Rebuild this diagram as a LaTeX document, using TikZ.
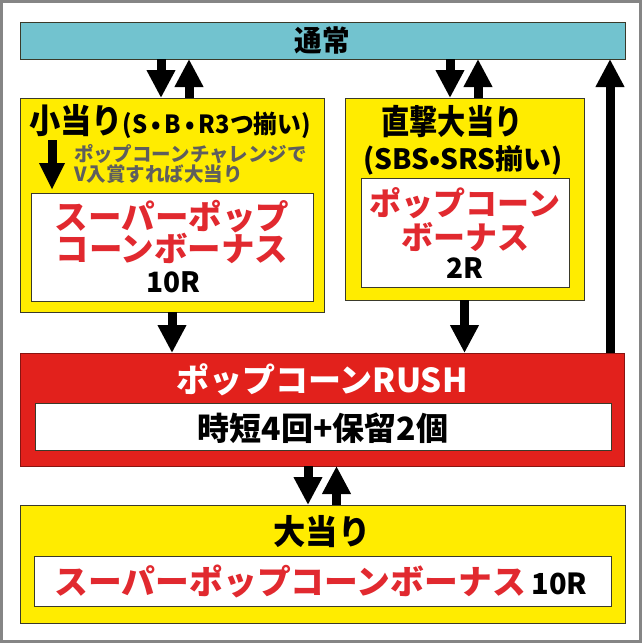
\documentclass[tikz,border=0pt]{standalone}
\usepackage{fontspec}
\IfFontExistsTF{Noto Sans CJK JP Black}
  {\setmainfont{Noto Sans CJK JP}[BoldFont={Noto Sans CJK JP Black}]}
  {\setmainfont{Noto Sans CJK JP}[BoldFont={Noto Sans CJK JP Bold}]}
\usetikzlibrary{arrows.meta}
\definecolor{barblue}{HTML}{72C3CF}
\definecolor{ylw}{HTML}{FFEC00}
\definecolor{rushred}{HTML}{E2211C}
\definecolor{txtred}{HTML}{E1292F}
\definecolor{txtgray}{HTML}{5E5E5E}
\definecolor{edgec}{HTML}{3A3A2A}
\definecolor{frame}{HTML}{858585}
\newcommand\fsz[1]{\fontsize{#1}{#1}\selectfont\bfseries}
\newcommand\nx[2]{\scalebox{#1}[1]{#2}}
\tikzset{
  box/.style={rectangle, inner sep=0pt, outer sep=0pt, anchor=north west, draw=edgec, line width=1pt},
  txt/.style={inner sep=0pt, outer sep=0pt, anchor=center},
  bigarrow/.style={line width=9pt, -{Triangle[width=27pt,length=28pt]}},
}
\begin{document}
\begin{tikzpicture}[x=1pt,y=-1pt]
\useasboundingbox (0,0) rectangle (642,643);
\draw[frame, line width=3pt] (1.5,1.5) rectangle (640.5,641.5);

% boxes
\node[box, fill=barblue, minimum width=605, minimum height=37] (bar) at (20,22) {};
\node[box, fill=ylw, minimum width=304, minimum height=214] (sy) at (20,98) {};
\node[box, fill=white, minimum width=282, minimum height=108] (sw) at (31,193) {};
\node[box, fill=ylw, minimum width=239, minimum height=202] (cy) at (345,98) {};
\node[box, fill=white, minimum width=208, minimum height=109] (cw) at (361,178) {};
\node[box, fill=rushred, draw=rushred!60!black, minimum width=604, minimum height=113] (rush) at (20,353) {};
\node[box, fill=white, minimum width=576, minimum height=47] (rw) at (35,403) {};
\node[box, fill=ylw, minimum width=605, minimum height=118] (by) at (20,505) {};
\node[box, fill=white, minimum width=577, minimum height=50] (bw) at (34,556) {};

% texts
\node[txt] (t1) at (322,40) {\fsz{29}\nx{0.95}{通常}};
\node[txt] (t2) at (170,122) {\fsz{34}\nx{0.92}{小当り}\fsz{25}\nx{0.95}{(S\,•\,B\,•\,R3つ揃い)}};
\node[txt, anchor=west, align=left, text=txtgray, font={\fontsize{19.5}{18.5}\selectfont\bfseries}] (t3) at (74,164)
  {ポップコーンチャレンジで\\V入賞すれば大当り};
\node[txt, text=txtred] (t4) at (172,217) {\fsz{33.5}スーパーポップ};
\node[txt, text=txtred] (t5) at (172,248) {\fsz{33.5}コーンボーナス};
\node[txt] (t6) at (173,282) {\fsz{28}10R};
\node[txt] (t7) at (452,122) {\fsz{34}\nx{0.83}{直撃大当り}};
\node[txt] (t8) at (463,160) {\fsz{28}(SBS•SRS揃い)};
\node[txt, text=txtred] (t9) at (465,203) {\fsz{32}ポップコーン};
\node[txt, text=txtred] (t10) at (465,237) {\fsz{32}ボーナス};
\node[txt] (t11) at (465,268) {\fsz{28}2R};
\node[txt, text=white] (t12) at (322,380) {\fsz{33}ポップコーンRUSH};
\node[txt] (t13) at (323,428) {\fsz{32}時短4回+保留2個};
\node[txt] (t14) at (322,532) {\fsz{34}\nx{0.95}{大当り}};
\node[txt] (t15) at (321,581) {\fsz{33.8}\textcolor{txtred}{スーパーポップコーンボーナス}\,\fsz{29}10R};

% helper x positions
\coordinate (xa) at (161,0);
\coordinate (xb) at (189,0);
\coordinate (xc) at (450,0);
\coordinate (xd) at (478,0);
\coordinate (xe) at (610,0);
\coordinate (xf) at (172,0);
\coordinate (xg) at (464.5,0);
\coordinate (xh) at (308,0);
\coordinate (xi) at (336.5,0);
\coordinate (xj) at (52,0);
\coordinate (yj) at (0,140);

% arrows
\draw[bigarrow] (bar.south -| xa) -- (sy.north -| xa);
\draw[bigarrow] (sy.north -| xb) -- (bar.south -| xb);
\draw[bigarrow] (bar.south -| xc) -- (cy.north -| xc);
\draw[bigarrow] (cy.north -| xd) -- (bar.south -| xd);
\draw[bigarrow] (rush.north -| xe) -- (bar.south -| xe);
\draw[bigarrow] (sy.south -| xf) -- (rush.north -| xf);
\draw[bigarrow] (cy.south -| xg) -- (rush.north -| xg);
\draw[bigarrow] (rush.south -| xh) -- (by.north -| xh);
\draw[bigarrow] (by.north -| xi) -- (rush.south -| xi);
\draw[line width=9pt, -{Triangle[width=24pt,length=27pt]}] (yj -| xj) -- ([yshift=3pt]sw.north -| xj);
\end{tikzpicture}
\end{document}
